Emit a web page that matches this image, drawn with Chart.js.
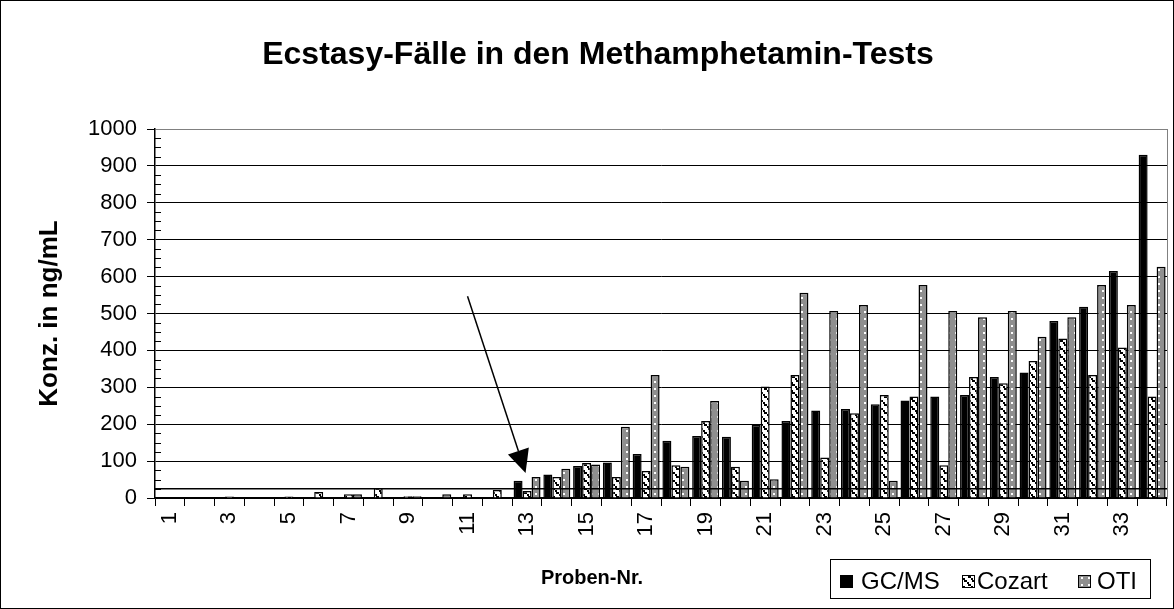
<!DOCTYPE html>
<html><head><meta charset="utf-8">
<script src="https://cdn.jsdelivr.net/npm/chart.js@4/dist/chart.umd.min.js"></script>
<style>html,body{margin:0;padding:0;background:#fff;}#wrap{width:1174px;height:609px;position:relative;}</style>
</head><body><div id="wrap"><canvas id="c" width="1174" height="609"></canvas></div>
<script>
const titleText = 'Ecstasy-Fälle in den Methamphetamin-Tests';
const xTitle = 'Proben-Nr.';
const yTitle = 'Konz. in ng/mL';
const categories = ['1','2','3','4','5','6','7','8','9','10','11','12','13','14','15','16','17','18','19','20','21','22','23','24','25','26','27','28','29','30','31','32','33','34'];
const seriesNames = ['GC/MS','Cozart','OTI'];
const gcms   = [0,0,0,0,0,0,0,0,0,0,0,0,47,64,87,96,119,155,168,166,198,209,237,241,254,264,275,279,328,340,480,518,615,930];
const cozart = [0,0,4,0,4,16,10,27,5,0,10,22,19,57,95,57,73,89,209,85,302,333,110,230,279,275,89,328,311,371,432,333,408,275];
const oti    = [0,0,0,0,0,0,10,0,5,10,0,0,57,79,91,193,333,85,263,47,51,556,507,523,47,577,507,490,507,437,490,577,523,627];
const yTicks = [0,100,200,300,400,500,600,700,800,900,1000];
const threshold = 25;
const arrowFrom = {idx: 10.0, val: 547};
const arrowTo   = {idx: 11.95, val: 68};

const FONT = "'Liberation Sans', Arial, sans-serif";

function cozartPattern(){
  const c=document.createElement('canvas'); c.width=8; c.height=8;
  const g=c.getContext('2d');
  g.fillStyle='#fff'; g.fillRect(0,0,8,8);
  g.fillStyle='#000';
  g.fillRect(0,0,3,2); g.fillRect(3,2,2,2); g.fillRect(4,4,3,2); g.fillRect(7,6,1,2); g.fillRect(0,6,1,2);
  return g.createPattern(c,'repeat');
}
function otiPattern(){
  const c=document.createElement('canvas'); c.width=7; c.height=7;
  const g=c.getContext('2d');
  g.fillStyle='#8f8f8f'; g.fillRect(0,0,7,7);
  g.fillStyle='#fff'; g.fillRect(3,3,2,2);
  return g.createPattern(c,'repeat');
}
const fills = ['#000000', cozartPattern(), otiPattern()];

const decor = {
  id:'decor',
  beforeDraw(chart){
    const ctx=chart.ctx; ctx.save(); ctx.fillStyle='#fff'; ctx.fillRect(0,0,chart.width,chart.height); ctx.restore();
  },
  afterDatasetsDraw(chart){
    const {ctx, chartArea:a, scales:{x,y}} = chart;
    ctx.save();
    ctx.strokeStyle='#808080'; ctx.lineWidth=1;
    ctx.beginPath(); ctx.moveTo(Math.round(a.right)+0.5, a.top); ctx.lineTo(Math.round(a.right)+0.5, a.bottom); ctx.stroke();
    const ty=y.getPixelForValue(threshold);
    ctx.strokeStyle='#000'; ctx.lineWidth=1.5;
    ctx.beginPath(); ctx.moveTo(a.left, ty); ctx.lineTo(a.right, ty); ctx.stroke();
    ctx.lineWidth=1; ctx.beginPath();
    for(let v=25; v<1000; v+=25){ if(v%100===0) continue; const py=Math.round(y.getPixelForValue(v))+0.5; ctx.moveTo(a.left, py); ctx.lineTo(a.left+6, py); }
    ctx.stroke();
    // arrow
    const x0=x.getPixelForValue(arrowFrom.idx), y0=y.getPixelForValue(arrowFrom.val);
    const x1=x.getPixelForValue(arrowTo.idx), y1=y.getPixelForValue(arrowTo.val);
    const dx=x1-x0, dy=y1-y0, L=Math.hypot(dx,dy), ux=dx/L, uy=dy/L;
    const hl=23, hw=11;
    const bx=x1-ux*hl, by=y1-uy*hl;
    ctx.lineWidth=1.5; ctx.strokeStyle='#000';
    ctx.beginPath(); ctx.moveTo(x0,y0); ctx.lineTo(bx,by); ctx.stroke();
    ctx.fillStyle='#000'; ctx.beginPath();
    ctx.moveTo(x1,y1); ctx.lineTo(bx-uy*hw, by+ux*hw); ctx.lineTo(bx+uy*hw, by-ux*hw); ctx.closePath(); ctx.fill();
    // x axis title
    ctx.fillStyle='#000'; ctx.font='bold 20px '+FONT; ctx.textAlign='center'; ctx.textBaseline='middle';
    ctx.fillText(xTitle, 592, 578);
    // legend
    ctx.fillStyle='#fff'; ctx.fillRect(830,559,321,39);
    ctx.strokeStyle='#000'; ctx.lineWidth=1; ctx.strokeRect(830.5,559.5,320,39);
    const sw=[840,962,1078], tx=[861,977,1097];
    ctx.font='24px '+FONT; ctx.textBaseline='alphabetic'; ctx.textAlign='left';
    chart.data.datasets.forEach((ds,i)=>{
      ctx.fillStyle=ds.backgroundColor; ctx.fillRect(sw[i],575,13,13);
      ctx.strokeStyle='#000'; ctx.lineWidth=1; ctx.strokeRect(sw[i]+0.5,575.5,12,12);
      ctx.fillStyle='#000'; ctx.fillText(ds.label, tx[i], 589);
    });
    ctx.strokeStyle='#000'; ctx.lineWidth=1; ctx.strokeRect(0.5,0.5,chart.width-1,chart.height-1);
    ctx.restore();
  }
};

new Chart(document.getElementById('c'), {
  type:'bar',
  data:{
    labels: categories,
    datasets:[gcms,cozart,oti].map((d,i)=>({
      label: seriesNames[i], data: d, backgroundColor: fills[i], borderColor:'#000', borderWidth:1.5,
      categoryPercentage:0.906, barPercentage:1.0
    }))
  },
  options:{
    responsive:false, animation:false,
    layout:{padding:{left:29,right:7,top:0,bottom:0}},
    plugins:{
      legend:{display:false}, tooltip:{enabled:false},
      title:{display:true, text:titleText, color:'#000', font:{family:FONT,size:32,weight:'bold'}, padding:{top:36,bottom:54.6}}
    },
    scales:{
      x:{
        grid:{drawOnChartArea:false, drawTicks:true, tickLength:8, color:'#000', offset:true},
        border:{display:true,color:'#000',width:1.5},
        ticks:{autoSkip:false, minRotation:90, maxRotation:90, color:'#000', font:{family:FONT,size:22}, padding:6,
          callback:(v,i)=> i%2===0 ? categories[i] : ''},
        title:{display:false},
        afterFit:(s)=>{ s.height=111; s.paddingLeft=0; s.paddingRight=0; }
      },
      y:{
        min:0, max:1000,
        afterBuildTicks:(s)=>{ s.ticks = yTicks.map(v=>({value:v})); },
        grid:{color:(c)=> c.tick && c.tick.value===1000 ? '#808080' : '#000', tickColor:'#000', tickLength:8, lineWidth:1},
        border:{display:true,color:'#000',width:1.5},
        ticks:{color:'#000', font:{family:FONT,size:22}, padding:10, callback:(v)=>String(v)},
        title:{display:true, text:yTitle, color:'#000', font:{family:FONT,size:26,weight:'bold'}, padding:{top:5,bottom:0}},
        afterFit:(s)=>{ s.width=126; }
      }
    }
  },
  plugins:[decor]
});
</script></body></html>
